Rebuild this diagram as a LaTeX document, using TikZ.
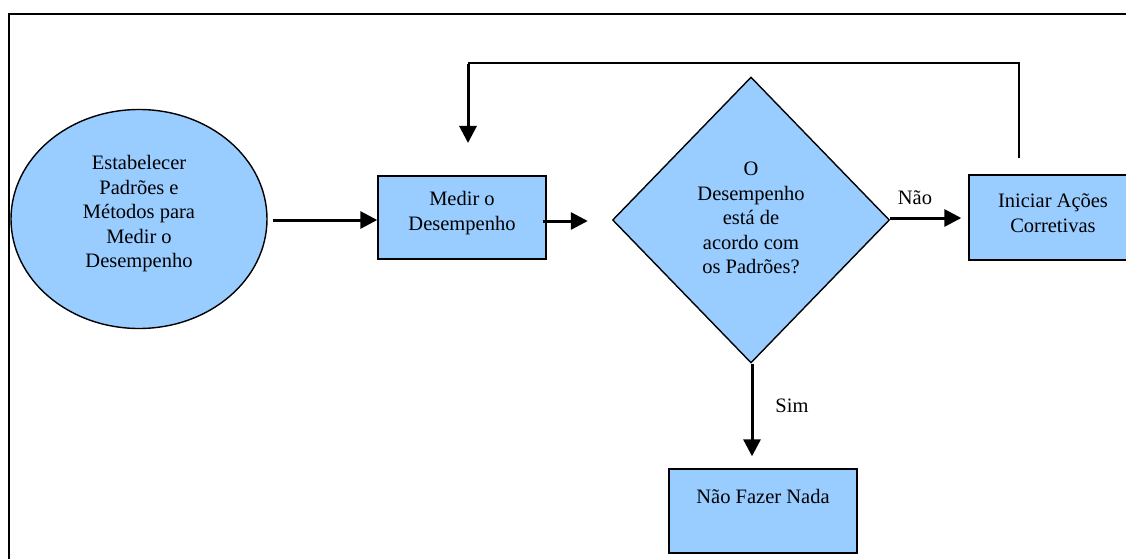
\documentclass[tikz,border=0pt]{standalone}
\usepackage{fontspec}
\setmainfont{Liberation Serif}
\usetikzlibrary{shapes.geometric,arrows.meta,calc}
\definecolor{boxblue}{RGB}{153,204,255}
\begin{document}
\begin{tikzpicture}[x=1pt,y=-1pt,
  shapebox/.style={draw=black,line width=1.4pt,fill=boxblue,inner sep=0pt},
  txt/.style={align=center,inner sep=0pt,font=\fontsize{20.5pt}{24.5pt}\selectfont},
  lbl/.style={inner sep=0pt,font=\fontsize{20.5pt}{24.5pt}\selectfont},
  arr/.style={line width=3pt,-{Triangle[length=17pt,width=17pt]}},
  fb/.style={line width=1.5pt}]
\clip (0,0) rectangle (1126,559);
\fill[white] (0,0) rectangle (1126,559);

% outer frame (top and left edges)
\draw[line width=1.5pt] (9,559) -- (9,14) -- (1126,14);

% shapes
\node[shapebox,ellipse,minimum width=256pt,minimum height=219pt] (estab) at (139,219) {};
\node[shapebox,rectangle,minimum width=168pt,minimum height=83pt] (medir) at (462,217.5) {};
\node[shapebox,diamond,minimum width=277pt,minimum height=286pt] (dec) at (751,220) {};
\node[shapebox,rectangle,minimum width=168pt,minimum height=85pt] (inic) at (1053,217.5) {};
\node[shapebox,rectangle,minimum width=188pt,minimum height=84pt] (nada) at (763,511) {};

% texts
\node[txt] (testab) at (139,214) {Estabelecer\\Padrões e\\Métodos para\\Medir o\\Desempenho};
\node[txt] (tmedir) at (462,213) {Medir o\\Desempenho};
\node[txt] (tdec) at (751,218) {O\\Desempenho\\está de\\acordo com\\os Padrões?};
\node[txt] (tinic) at (1053,213) {Iniciar Ações\\Corretivas};
\node[txt] (tnada) at (763,496) {Não Fazer Nada};
\node[lbl] (lnao) at (915,198) {Não};
\node[lbl] (lsim) at (792,406) {Sim};

% connectors
\draw[arr,shorten <=5pt] (estab.east |- 0,220) -- (medir.west |- 0,220);
\draw[arr,shorten <=-4pt,shorten >=24pt] (medir.east |- 0,221) -- (dec.west |- 0,221);
\draw[arr,shorten >=7pt] (dec.east |- 0,218) -- (inic.west |- 0,218);
\draw[arr,shorten >=12pt] ([xshift=1pt]dec.south) -- ([xshift=1pt]dec.south |- nada.north);

% feedback loop
\coordinate (fbstart) at (1019,158);
\coordinate (fbright) at (1019,63);
\coordinate (fbleft) at (468,63);
\coordinate (fbend) at (468,143);
\draw[fb] (fbstart) -- (fbright) -- (fbleft);
\draw[arr] ([yshift=-0.75pt]fbleft) -- (fbend);
\end{tikzpicture}
\end{document}
